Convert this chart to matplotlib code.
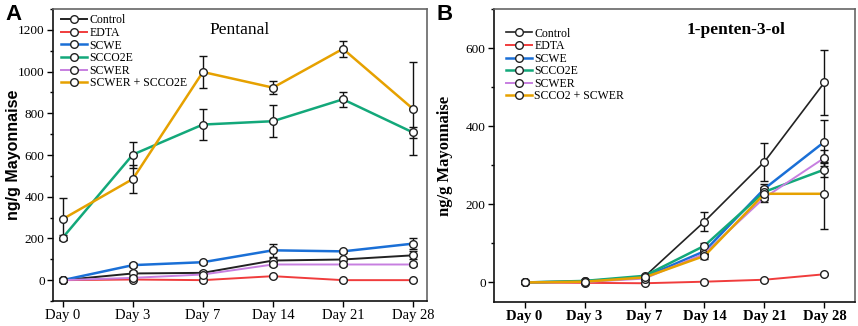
import matplotlib
matplotlib.use("Agg")
import matplotlib.pyplot as plt
from matplotlib.ticker import MultipleLocator
import numpy as np

days = ["Day 0", "Day 3", "Day 7", "Day 14", "Day 21", "Day 28"]

# Panel A - Pentanal
a_labels = ["Control", "EDTA", "SCWE", "SCCO2E", "SCWER", "SCWER + SCCO2E"]
a_control = [0, 32, 35, 94, 99, 119]
a_edta = [0, 3, 0, 19, 0, 0]
a_scwe = [0, 72, 86, 143, 138, 175]
a_scco2e = [204, 602, 746, 762, 867, 708]
a_scwer = [0, 11, 27, 75, 75, 75]
a_combo = [293, 485, 998, 923, 1109, 821]
a_control_err = [0, 10, 10, 12, 8, 20]
a_edta_err = [0, 3, 3, 5, 3, 3]
a_scwe_err = [0, 8, 8, 32, 8, 25]
a_scco2e_err = [12, 62, 73, 76, 35, 25]
a_scwer_err = [0, 5, 5, 6, 6, 6]
a_combo_err = [100, 65, 76, 32, 37, 223]

# Panel B - 1-penten-3-ol
b_labels = ["Control", "EDTA", "SCWE", "SCCO2E", "SCWER", "SCCO2 + SCWER"]
b_control = [0, 2, 15, 156, 309, 512]
b_edta = [0, -1, -2, 2, 7, 21]
b_scwe = [0, 3, 14, 80, 240, 360]
b_scco2e = [0, 4, 17, 94, 232, 289]
b_scwer = [0, 1, 10, 74, 217, 319]
b_combo = [0, 2, 13, 68, 227, 227]
b_control_err = [0, 2, 3, 25, 49, 83]
b_edta_err = [0, 1, 1, 2, 2, 3]
b_scwe_err = [0, 2, 3, 8, 12, 55]
b_scco2e_err = [0, 2, 3, 8, 12, 20]
b_scwer_err = [0, 2, 3, 8, 12, 20]
b_combo_err = [0, 2, 3, 8, 15, 90]

colors = ["#222222", "#f03c3c", "#1a6fd6", "#13a87a", "#c77fe0", "#e6a100"]

SERIF = ["Liberation Serif", "DejaVu Serif"]
SANS = ["Liberation Sans", "DejaVu Sans"]

fig = plt.figure(figsize=(8.58, 3.26), dpi=100)
W, H = 858, 326
axA = fig.add_axes([53 / W, 1 - 301 / H, (427 - 53) / W, (301 - 9) / H])
axB = fig.add_axes([494 / W, 1 - 302 / H, (855 - 494) / W, (302 - 9) / H])


def draw(ax, series, errs, labels, lw_list):
    x = np.arange(len(days))
    for s, e, c, lab, lw in zip(series, errs, colors, labels, lw_list):
        ax.errorbar(x, s, yerr=e, fmt="none", ecolor="#111111", elinewidth=1.0,
                    capsize=3, capthick=1.0, zorder=2)
        ax.plot(x, s, color=c, lw=lw, marker="o", ms=5.5, mfc="white",
                mec="#222222", mew=1.0, label=lab, zorder=3)
    ax.set_xticks(x)
    for side in ["top", "right"]:
        ax.spines[side].set_color("#666666")
        ax.spines[side].set_linewidth(1.2)
    for side in ["left", "bottom"]:
        ax.spines[side].set_color("#111111")
        ax.spines[side].set_linewidth(1.2)
    ax.tick_params(direction="out", length=4, width=1, pad=2)
    ax.tick_params(which="minor", direction="out", length=2.5, width=1)


draw(axA,
     [a_control, a_edta, a_scwe, a_scco2e, a_scwer, a_combo],
     [a_control_err, a_edta_err, a_scwe_err, a_scco2e_err, a_scwer_err, a_combo_err],
     a_labels, [1.4, 1.4, 1.8, 1.8, 1.4, 1.8])
axA.set_xlim(-0.14, 5.2)
axA.set_ylim(-100, 1300)
axA.yaxis.set_minor_locator(MultipleLocator(100))
axA.set_yticks(range(0, 1201, 200))
axA.set_xticklabels(days, fontfamily=SERIF, fontsize=10.5)
for t in axA.get_yticklabels():
    t.set_fontfamily(SERIF)
    t.set_fontsize(9.5)
axA.set_ylabel("ng/g Mayonnaise", fontfamily=SANS, fontweight="bold", fontsize=11.5)
axA.yaxis.set_label_coords((21 - 53) / 374, 0.5)
axA.text(0.5, 0.955, "Pentanal", transform=axA.transAxes, ha="center", va="top",
         fontfamily=SERIF, fontsize=12.5)
axA.legend(loc="upper left", bbox_to_anchor=(0.0, 1.01), frameon=False,
           prop={"family": SERIF, "size": 8.5}, handlelength=2.2,
           handletextpad=0.2, labelspacing=0.05, borderaxespad=0.3)

draw(axB,
     [b_control, b_edta, b_scwe, b_scco2e, b_scwer, b_combo],
     [b_control_err, b_edta_err, b_scwe_err, b_scco2e_err, b_scwer_err, b_combo_err],
     b_labels, [1.2, 1.4, 1.8, 1.8, 1.4, 1.8])
axB.set_xlim(-0.51, 5.51)
axB.set_ylim(-50, 700)
axB.yaxis.set_minor_locator(MultipleLocator(100))
axB.set_yticks(range(0, 601, 200))
axB.set_xticklabels(days, fontfamily=SERIF, fontsize=10.5, fontweight="bold")
for t in axB.get_yticklabels():
    t.set_fontfamily(SERIF)
    t.set_fontsize(9.5)
axB.set_ylabel("ng/g Mayonnaise", fontfamily=SERIF, fontweight="bold", fontsize=12)
axB.yaxis.set_label_coords((453 - 494) / 361, 0.5)
axB.text(0.67, 0.955, "1-penten-3-ol", transform=axB.transAxes, ha="center", va="top",
         fontfamily=SERIF, fontsize=12.5, fontweight="bold")
axB.legend(loc="upper left", bbox_to_anchor=(0.01, 0.965), frameon=False,
           prop={"family": SERIF, "size": 8.5}, handlelength=2.2,
           handletextpad=0.2, labelspacing=0.05, borderaxespad=0.3)

fig.text(5 / W, 1 - 4 / H, "A", fontfamily=SANS, fontweight="bold", fontsize=16, va="top", ha="left")
fig.text(437 / W, 1 - 4 / H, "B", fontfamily=SANS, fontweight="bold", fontsize=16, va="top", ha="left")

fig.savefig("out.png", dpi=100)
